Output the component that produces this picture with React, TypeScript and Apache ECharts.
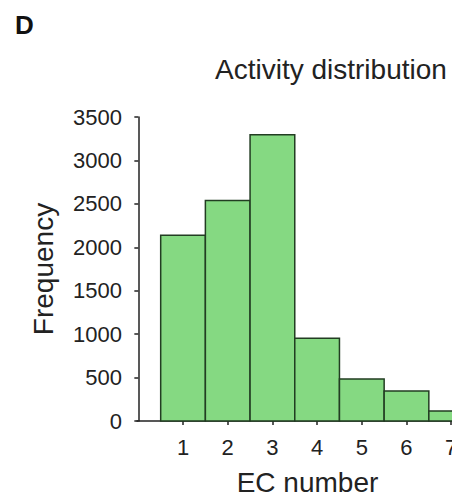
import React, { useEffect, useRef } from "react";
import * as echarts from "echarts";

const ecNumbers = [1, 2, 3, 4, 5, 6, 7];
const frequencies = [2140, 2540, 3295, 952, 483, 345, 115];

const FONT = "'Liberation Sans', Arial, Helvetica, sans-serif";
const TEXT = "#222";
const AXIS = "#222";

export default function App() {
  const ref = useRef<HTMLDivElement>(null);
  useEffect(() => {
    document.body.style.margin = "0";
    document.body.style.overflow = "hidden";
    const chart = echarts.init(ref.current!, null, { renderer: "svg" });
    const data = ecNumbers.map((x, i) => [x, frequencies[i]]);
    chart.setOption({
      animation: false,
      backgroundColor: "#fff",
      title: [
        {
          text: "D",
          left: 10,
          top: 7,
          textStyle: { fontFamily: FONT, fontSize: 26, fontWeight: "bold", color: "#111" },
        },
        {
          text: "Activity distribution",
          left: 210,
          top: 50,
          textStyle: { fontFamily: FONT, fontSize: 28, fontWeight: "normal", color: TEXT },
        },
      ],
      grid: {
        left: 137,
        right: 0,
        top: 117,
        bottom: 75,
        containLabel: false,
        outerBoundsMode: "none",
      },
      xAxis: {
        type: "value",
        min: -0.03,
        max: 7.6,
        name: "EC number",
        nameLocation: "middle",
        nameGap: 49,
        nameTextStyle: { fontFamily: FONT, fontSize: 28, lineHeight: 24, color: TEXT },
        axisLine: { show: true, lineStyle: { color: AXIS, width: 1.5 } },
        axisTick: {
          show: true,
          length: 4,
          lineStyle: { color: AXIS, width: 1.5 },
          customValues: ecNumbers,
        },
        axisLabel: {
          margin: 15,
          fontFamily: FONT,
          fontSize: 22,
          color: TEXT,
          customValues: ecNumbers,
          formatter: (v: number) => String(v),
        },
        splitLine: { show: false },
      },
      yAxis: {
        type: "value",
        min: 0,
        max: 3500,
        interval: 500,
        name: "Frequency",
        nameLocation: "middle",
        nameGap: 80,
        nameRotate: 90,
        nameTextStyle: { fontFamily: FONT, fontSize: 28, color: TEXT },
        axisLine: { show: true, lineStyle: { color: AXIS, width: 1.5 } },
        axisTick: { show: true, length: 4, lineStyle: { color: AXIS, width: 1.5 } },
        axisLabel: {
          margin: 15,
          fontFamily: FONT,
          fontSize: 22,
          color: TEXT,
          formatter: (v: number) => String(v),
        },
        splitLine: { show: false },
      },
      series: [
        {
          type: "custom",
          data,
          clip: false,
          renderItem: (params: any, api: any) => {
            const x = api.value(0);
            const y = api.value(1);
            const p0 = api.coord([x - 0.5, y]);
            const p1 = api.coord([x + 0.5, 0]);
            return {
              type: "rect",
              shape: { x: p0[0], y: p0[1], width: p1[0] - p0[0], height: p1[1] - p0[1] },
              style: { fill: "#85d982", stroke: "#223d22", lineWidth: 1.5 },
            };
          },
          z: 1,
        },
      ],
    });
    return () => chart.dispose();
  }, []);
  return (
    <div style={{ width: 452, height: 496, overflow: "hidden" }}>
      <div ref={ref} style={{ width: 478, height: 496 }} />
    </div>
  );
}
